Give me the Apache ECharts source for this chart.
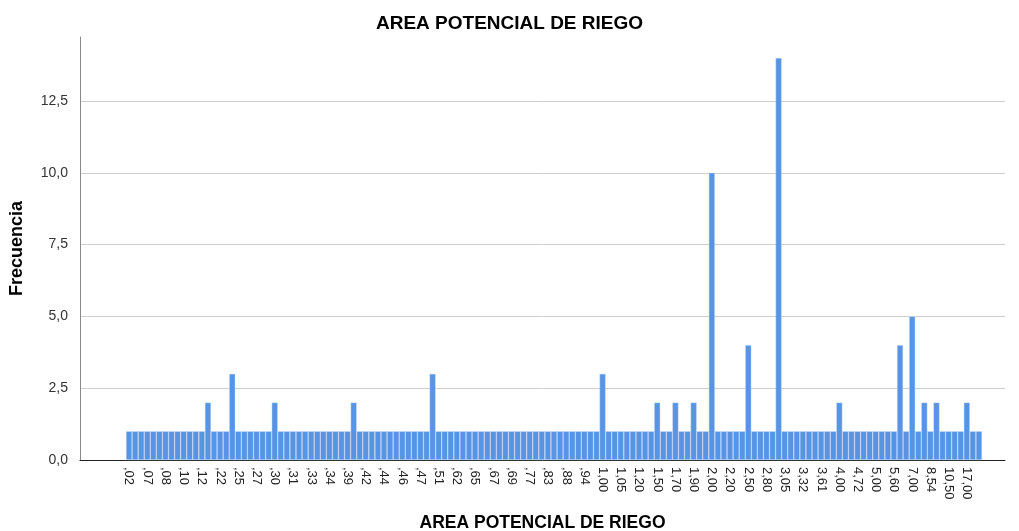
<!DOCTYPE html>
<html>
<head>
<meta charset="utf-8">
<script src="https://cdn.jsdelivr.net/npm/echarts@6/dist/echarts.min.js"></script>
<style>html,body{margin:0;padding:0;background:#fff}#c{width:1019px;height:531px}</style>
</head>
<body>
<div id="c"></div>
<script>
const categories = [
  ',02', ',03', ',05', ',07', ',07', ',08', ',08', ',09', ',10', ',10',
  ',11', ',12', ',12', ',15', ',20', ',22', ',23', ',25', ',25', ',26',
  ',27', ',27', ',28', ',29', ',30', ',30', ',31', ',31', ',32', ',33',
  ',33', ',33', ',34', ',34', ',35', ',37', ',39', ',40', ',41', ',42',
  ',43', ',44', ',44', ',45', ',46', ',46', ',47', ',47', ',47', ',48',
  ',50', ',51', ',53', ',60', ',62', ',63', ',64', ',65', ',66', ',67',
  ',67', ',68', ',69', ',69', ',70', ',75', ',77', ',80', ',82', ',83',
  ',85', ',87', ',88', ',90', ',92', ',94', ',96', ',98', '1,00', '1,02',
  '1,04', '1,05', '1,10', '1,15', '1,20', '1,25', '1,40', '1,50', '1,54', '1,60',
  '1,70', '1,75', '1,80', '1,90', '1,93', '1,98', '2,00', '2,05', '2,10', '2,20',
  '2,30', '2,40', '2,50', '2,60', '2,70', '2,80', '2,90', '3,00', '3,05', '3,10',
  '3,20', '3,32', '3,40', '3,50', '3,61', '3,70', '3,80', '4,00', '4,20', '4,50',
  '4,72', '4,80', '4,90', '5,00', '5,20', '5,50', '5,60', '6,00', '6,50', '7,00',
  '7,50', '8,00', '8,54', '9,00', '10,00', '10,50', '12,00', '15,00', '17,00', '20,00',
  '25,00'
];
const frequencies = [
  1, 1, 1, 1, 1, 1, 1, 1, 1, 1,
  1, 1, 1, 2, 1, 1, 1, 3, 1, 1,
  1, 1, 1, 1, 2, 1, 1, 1, 1, 1,
  1, 1, 1, 1, 1, 1, 1, 2, 1, 1,
  1, 1, 1, 1, 1, 1, 1, 1, 1, 1,
  3, 1, 1, 1, 1, 1, 1, 1, 1, 1,
  1, 1, 1, 1, 1, 1, 1, 1, 1, 1,
  1, 1, 1, 1, 1, 1, 1, 1, 3, 1,
  1, 1, 1, 1, 1, 1, 1, 2, 1, 1,
  2, 1, 1, 2, 1, 1, 10, 1, 1, 1,
  1, 1, 4, 1, 1, 1, 1, 14, 1, 1,
  1, 1, 1, 1, 1, 1, 1, 2, 1, 1,
  1, 1, 1, 1, 1, 1, 1, 4, 1, 5,
  1, 2, 1, 2, 1, 1, 1, 1, 2, 1,
  1
];
const yTicks = [0, 2.5, 5, 7.5, 10, 12.5];
const yMax = 14.73;
const chartTitle = 'AREA POTENCIAL DE RIEGO';
const xName = 'AREA POTENCIAL DE RIEGO';
const yName = 'Frecuencia';

const FONT = '"Liberation Sans", Arial, sans-serif';
const chart = echarts.init(document.getElementById('c'), null, {renderer: 'canvas'});
chart.setOption({
  animation: false,
  backgroundColor: '#ffffff',
  title: {
    text: chartTitle, left: 'center', top: 9,
    textStyle: {fontFamily: FONT, fontSize: 19, fontWeight: 'bold', color: '#000'}
  },
  grid: [
    {left: 80, right: 14, top: 37, bottom: 71, outerBoundsMode: 'none', containLabel: false},
    {left: 126, right: 37, top: 37, bottom: 71, outerBoundsMode: 'none', containLabel: false}
  ],
  xAxis: [
    {
      type: 'value', gridIndex: 0, min: 0, max: 1,
      name: xName, nameLocation: 'middle', nameGap: 54,
      nameTextStyle: {fontFamily: FONT, fontSize: 17.5, fontWeight: 'bold', color: '#000'},
      axisLine: {show: true, lineStyle: {color: '#222', width: 1}},
      axisTick: {show: false}, axisLabel: {show: false}, splitLine: {show: false}
    },
    {
      type: 'category', gridIndex: 1, data: categories,
      boundaryGap: true,
      axisLine: {show: false}, axisTick: {show: false},
      axisLabel: {
        interval: 2, rotate: -90, margin: 7,
        fontFamily: FONT, fontSize: 13, color: '#222',
        padding: [0, 0, 16, 0]
      }
    }
  ],
  yAxis: [
    {
      type: 'value', gridIndex: 0, min: 0, max: yMax, interval: 2.5,
      name: yName, nameLocation: 'middle', nameGap: 54,
      nameTextStyle: {fontFamily: FONT, fontSize: 18, fontWeight: 'bold', color: '#000'},
      axisLine: {show: true, lineStyle: {color: '#8a8a8a'}},
      axisTick: {show: false},
      axisLabel: {
        fontFamily: FONT, fontSize: 14, color: '#333', margin: 12,
        showMaxLabel: false,
        formatter: v => yTicks.indexOf(v) >= 0 ? v.toFixed(1).replace('.', ',') : ''
      },
      splitLine: {show: true, showMinLine: false, showMaxLine: false, lineStyle: {color: '#cfcfcf', width: 1}}
    },
    {
      type: 'value', gridIndex: 1, min: 0, max: yMax, show: false,
      splitLine: {show: false}
    }
  ],
  series: [{
    type: 'bar', xAxisIndex: 1, yAxisIndex: 1,
    data: frequencies,
    barCategoryGap: 0, barWidth: '100%',
    itemStyle: {color: '#5794e4', borderColor: 'rgba(200,220,248,0.9)', borderWidth: 0.5}
  }]
});
</script>
</body>
</html>
